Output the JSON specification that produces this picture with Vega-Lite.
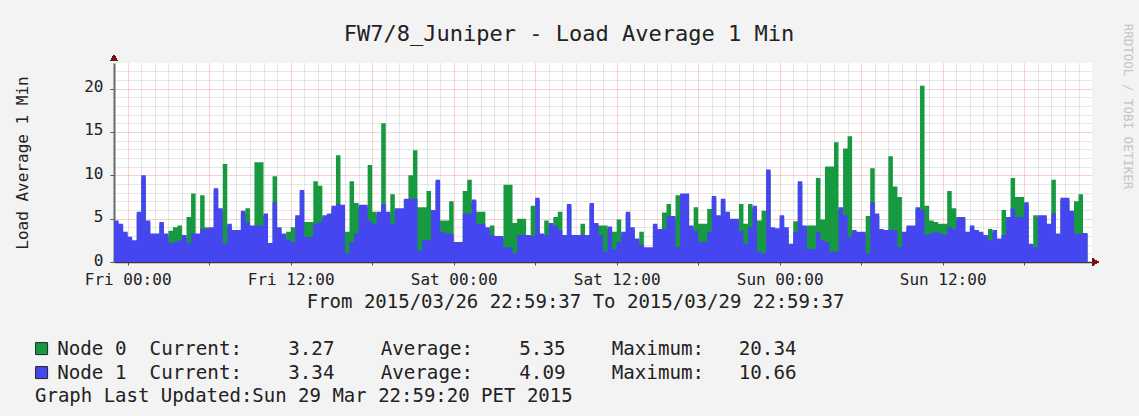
{
"$schema": "https://vega.github.io/schema/vega-lite/v6.json",
"width": 978, "height": 199,
"autosize": "none",
"padding": {"left": 114, "top": 63, "right": 47, "bottom": 154},
"background": "#f3f3f3",
"config": {"view": {"fill": "#ffffff", "stroke": null}, "font": "DejaVu Sans Mono"},
"title": {"text": "Graph Last Updated:Sun 29 Mar 22:59:20 PET 2015", "orient": "bottom", "anchor": "start", "frame": "group", "dx": -79, "offset": 4, "font": "DejaVu Sans Mono", "fontSize": 19, "fontWeight": "normal", "color": "#222222"},
"data": {"values": [
{"t":"2015-03-26T23:00Z","n0":4.5,"n1":4.8},{"t":"2015-03-26T23:20Z","n0":4.1,"n1":4.4},{"t":"2015-03-26T23:40Z","n0":3.2,"n1":3.5},
{"t":"2015-03-27T00:00Z","n0":2.6,"n1":2.9},{"t":"2015-03-27T00:20Z","n0":2.2,"n1":2.5},{"t":"2015-03-27T00:40Z","n0":5.5,"n1":5.8},
{"t":"2015-03-27T01:00Z","n0":9.7,"n1":10.0},{"t":"2015-03-27T01:20Z","n0":4.5,"n1":4.8},{"t":"2015-03-27T01:40Z","n0":3.0,"n1":3.3},
{"t":"2015-03-27T02:00Z","n0":3.0,"n1":3.3},{"t":"2015-03-27T02:20Z","n0":4.3,"n1":4.6},{"t":"2015-03-27T02:40Z","n0":3.0,"n1":3.3},
{"t":"2015-03-27T03:00Z","n0":3.6,"n1":2.2},{"t":"2015-03-27T03:20Z","n0":4.0,"n1":2.3},{"t":"2015-03-27T03:40Z","n0":4.2,"n1":2.5},
{"t":"2015-03-27T04:00Z","n0":2.8,"n1":3.1},{"t":"2015-03-27T04:20Z","n0":5.2,"n1":2.2},{"t":"2015-03-27T04:40Z","n0":7.9,"n1":3.3},
{"t":"2015-03-27T05:00Z","n0":3.0,"n1":3.3},{"t":"2015-03-27T05:20Z","n0":7.7,"n1":3.8},{"t":"2015-03-27T05:40Z","n0":4.0,"n1":3.8},
{"t":"2015-03-27T06:00Z","n0":3.7,"n1":4.0},{"t":"2015-03-27T06:20Z","n0":8.2,"n1":8.5},{"t":"2015-03-27T06:40Z","n0":5.9,"n1":6.2},
{"t":"2015-03-27T07:00Z","n0":11.3,"n1":2.1},{"t":"2015-03-27T07:20Z","n0":4.1,"n1":4.4},{"t":"2015-03-27T07:40Z","n0":3.4,"n1":3.7},
{"t":"2015-03-27T08:00Z","n0":3.4,"n1":3.7},{"t":"2015-03-27T08:20Z","n0":5.6,"n1":5.9},{"t":"2015-03-27T08:40Z","n0":6.2,"n1":4.6},
{"t":"2015-03-27T09:00Z","n0":3.9,"n1":4.2},{"t":"2015-03-27T09:20Z","n0":11.5,"n1":4.2},{"t":"2015-03-27T09:40Z","n0":11.5,"n1":4.2},
{"t":"2015-03-27T10:00Z","n0":5.3,"n1":5.6},{"t":"2015-03-27T10:20Z","n0":1.9,"n1":2.2},{"t":"2015-03-27T10:40Z","n0":9.9,"n1":6.9},
{"t":"2015-03-27T11:00Z","n0":3.7,"n1":4.0},{"t":"2015-03-27T11:20Z","n0":3.0,"n1":3.3},{"t":"2015-03-27T11:40Z","n0":3.5,"n1":2.6},
{"t":"2015-03-27T12:00Z","n0":4.0,"n1":2.3},{"t":"2015-03-27T12:20Z","n0":5.1,"n1":5.4},{"t":"2015-03-27T12:40Z","n0":8.0,"n1":8.3},
{"t":"2015-03-27T13:00Z","n0":4.6,"n1":2.9},{"t":"2015-03-27T13:20Z","n0":4.6,"n1":2.9},{"t":"2015-03-27T13:40Z","n0":9.3,"n1":4.4},
{"t":"2015-03-27T14:00Z","n0":8.8,"n1":4.6},{"t":"2015-03-27T14:20Z","n0":5.1,"n1":5.4},{"t":"2015-03-27T14:40Z","n0":5.3,"n1":5.6},
{"t":"2015-03-27T15:00Z","n0":6.2,"n1":6.5},{"t":"2015-03-27T15:20Z","n0":12.3,"n1":6.7},{"t":"2015-03-27T15:40Z","n0":6.3,"n1":6.6},
{"t":"2015-03-27T16:00Z","n0":3.5,"n1":1.0},{"t":"2015-03-27T16:20Z","n0":9.3,"n1":2.3},{"t":"2015-03-27T16:40Z","n0":6.8,"n1":3.3},
{"t":"2015-03-27T17:00Z","n0":6.3,"n1":6.6},{"t":"2015-03-27T17:20Z","n0":6.3,"n1":6.6},{"t":"2015-03-27T17:40Z","n0":11.2,"n1":4.8},
{"t":"2015-03-27T18:00Z","n0":5.8,"n1":4.4},{"t":"2015-03-27T18:20Z","n0":5.5,"n1":5.8},{"t":"2015-03-27T18:40Z","n0":16.0,"n1":6.7},
{"t":"2015-03-27T19:00Z","n0":5.5,"n1":5.8},{"t":"2015-03-27T19:20Z","n0":7.8,"n1":4.4},{"t":"2015-03-27T19:40Z","n0":5.9,"n1":6.2},
{"t":"2015-03-27T20:00Z","n0":5.9,"n1":6.2},{"t":"2015-03-27T20:20Z","n0":7.0,"n1":7.3},{"t":"2015-03-27T20:40Z","n0":10.0,"n1":7.3},
{"t":"2015-03-27T21:00Z","n0":12.9,"n1":7.3},{"t":"2015-03-27T21:20Z","n0":6.3,"n1":1.3},{"t":"2015-03-27T21:40Z","n0":6.3,"n1":2.5},
{"t":"2015-03-27T22:00Z","n0":8.2,"n1":2.5},{"t":"2015-03-27T22:20Z","n0":5.7,"n1":6.0},{"t":"2015-03-27T22:40Z","n0":9.2,"n1":9.5},
{"t":"2015-03-27T23:00Z","n0":4.8,"n1":3.5},{"t":"2015-03-27T23:20Z","n0":4.8,"n1":3.3},{"t":"2015-03-27T23:40Z","n0":7.0,"n1":3.3},
{"t":"2015-03-28T00:00Z","n0":2.0,"n1":2.3},{"t":"2015-03-28T00:20Z","n0":2.0,"n1":2.3},{"t":"2015-03-28T00:40Z","n0":8.2,"n1":5.6},
{"t":"2015-03-28T01:00Z","n0":9.5,"n1":5.6},{"t":"2015-03-28T01:20Z","n0":6.9,"n1":7.2},{"t":"2015-03-28T01:40Z","n0":5.8,"n1":4.4},
{"t":"2015-03-28T02:00Z","n0":5.8,"n1":4.4},{"t":"2015-03-28T02:20Z","n0":3.7,"n1":4.0},{"t":"2015-03-28T02:40Z","n0":4.2,"n1":3.1},
{"t":"2015-03-28T03:00Z","n0":2.7,"n1":3.0},{"t":"2015-03-28T03:20Z","n0":2.7,"n1":3.0},{"t":"2015-03-28T03:40Z","n0":8.9,"n1":1.7},
{"t":"2015-03-28T04:00Z","n0":8.9,"n1":1.7},{"t":"2015-03-28T04:20Z","n0":4.5,"n1":1.0},{"t":"2015-03-28T04:40Z","n0":5.0,"n1":3.1},
{"t":"2015-03-28T05:00Z","n0":5.0,"n1":3.1},{"t":"2015-03-28T05:20Z","n0":2.8,"n1":3.1},{"t":"2015-03-28T05:40Z","n0":6.5,"n1":3.0},
{"t":"2015-03-28T06:00Z","n0":7.1,"n1":7.4},{"t":"2015-03-28T06:20Z","n0":3.0,"n1":3.3},{"t":"2015-03-28T06:40Z","n0":4.8,"n1":3.1},
{"t":"2015-03-28T07:00Z","n0":4.2,"n1":4.5},{"t":"2015-03-28T07:20Z","n0":5.2,"n1":4.2},{"t":"2015-03-28T07:40Z","n0":5.8,"n1":3.7},
{"t":"2015-03-28T08:00Z","n0":2.8,"n1":3.1},{"t":"2015-03-28T08:20Z","n0":6.4,"n1":6.7},{"t":"2015-03-28T08:40Z","n0":2.8,"n1":3.1},
{"t":"2015-03-28T09:00Z","n0":2.8,"n1":3.1},{"t":"2015-03-28T09:20Z","n0":4.4,"n1":3.1},{"t":"2015-03-28T09:40Z","n0":2.8,"n1":3.1},
{"t":"2015-03-28T10:00Z","n0":6.5,"n1":6.8},{"t":"2015-03-28T10:20Z","n0":4.2,"n1":4.5},{"t":"2015-03-28T10:40Z","n0":4.2,"n1":3.1},
{"t":"2015-03-28T11:00Z","n0":4.2,"n1":1.2},{"t":"2015-03-28T11:20Z","n0":3.8,"n1":4.1},{"t":"2015-03-28T11:40Z","n0":3.5,"n1":1.5},
{"t":"2015-03-28T12:00Z","n0":4.9,"n1":2.3},{"t":"2015-03-28T12:20Z","n0":3.2,"n1":3.5},{"t":"2015-03-28T12:40Z","n0":5.5,"n1":5.8},
{"t":"2015-03-28T13:00Z","n0":3.7,"n1":4.0},{"t":"2015-03-28T13:20Z","n0":2.4,"n1":2.7},{"t":"2015-03-28T13:40Z","n0":3.5,"n1":2.0},
{"t":"2015-03-28T14:00Z","n0":1.4,"n1":1.7},{"t":"2015-03-28T14:20Z","n0":1.4,"n1":1.7},{"t":"2015-03-28T14:40Z","n0":4.1,"n1":4.4},
{"t":"2015-03-28T15:00Z","n0":3.5,"n1":3.8},{"t":"2015-03-28T15:20Z","n0":5.7,"n1":3.8},{"t":"2015-03-28T15:40Z","n0":6.7,"n1":5.3},
{"t":"2015-03-28T16:00Z","n0":5.0,"n1":5.3},{"t":"2015-03-28T16:20Z","n0":7.7,"n1":1.7},{"t":"2015-03-28T16:40Z","n0":7.6,"n1":7.9},
{"t":"2015-03-28T17:00Z","n0":7.6,"n1":7.9},{"t":"2015-03-28T17:20Z","n0":3.9,"n1":4.2},{"t":"2015-03-28T17:40Z","n0":6.3,"n1":3.6},
{"t":"2015-03-28T18:00Z","n0":4.4,"n1":2.3},{"t":"2015-03-28T18:20Z","n0":4.4,"n1":2.3},{"t":"2015-03-28T18:40Z","n0":6.1,"n1":3.5},
{"t":"2015-03-28T19:00Z","n0":7.3,"n1":7.6},{"t":"2015-03-28T19:20Z","n0":5.1,"n1":5.4},{"t":"2015-03-28T19:40Z","n0":7.0,"n1":7.3},
{"t":"2015-03-28T20:00Z","n0":5.5,"n1":5.8},{"t":"2015-03-28T20:20Z","n0":4.7,"n1":5.0},{"t":"2015-03-28T20:40Z","n0":4.7,"n1":5.0},
{"t":"2015-03-28T21:00Z","n0":6.7,"n1":3.6},{"t":"2015-03-28T21:20Z","n0":4.4,"n1":2.1},{"t":"2015-03-28T21:40Z","n0":6.7,"n1":4.0},
{"t":"2015-03-28T22:00Z","n0":6.2,"n1":6.5},{"t":"2015-03-28T22:20Z","n0":4.8,"n1":1.2},{"t":"2015-03-28T22:40Z","n0":5.9,"n1":1.0},
{"t":"2015-03-28T23:00Z","n0":10.3,"n1":10.66},{"t":"2015-03-28T23:20Z","n0":3.7,"n1":4.0},{"t":"2015-03-28T23:40Z","n0":3.6,"n1":3.9},
{"t":"2015-03-29T00:00Z","n0":5.1,"n1":5.4},{"t":"2015-03-29T00:20Z","n0":3.7,"n1":4.0},{"t":"2015-03-29T00:40Z","n0":1.8,"n1":2.1},
{"t":"2015-03-29T01:00Z","n0":4.7,"n1":3.5},{"t":"2015-03-29T01:20Z","n0":9.0,"n1":9.3},{"t":"2015-03-29T01:40Z","n0":3.9,"n1":4.2},
{"t":"2015-03-29T02:00Z","n0":4.2,"n1":1.5},{"t":"2015-03-29T02:20Z","n0":4.2,"n1":1.5},{"t":"2015-03-29T02:40Z","n0":9.7,"n1":3.5},
{"t":"2015-03-29T03:00Z","n0":4.9,"n1":2.5},{"t":"2015-03-29T03:20Z","n0":11.0,"n1":2.3},{"t":"2015-03-29T03:40Z","n0":11.0,"n1":1.2},
{"t":"2015-03-29T04:00Z","n0":13.8,"n1":1.2},{"t":"2015-03-29T04:20Z","n0":6.0,"n1":6.3},{"t":"2015-03-29T04:40Z","n0":13.1,"n1":5.4},
{"t":"2015-03-29T05:00Z","n0":14.5,"n1":2.9},{"t":"2015-03-29T05:20Z","n0":3.4,"n1":3.7},{"t":"2015-03-29T05:40Z","n0":3.2,"n1":3.5},
{"t":"2015-03-29T06:00Z","n0":3.2,"n1":3.5},{"t":"2015-03-29T06:20Z","n0":5.3,"n1":1.0},{"t":"2015-03-29T06:40Z","n0":10.8,"n1":6.9},
{"t":"2015-03-29T07:00Z","n0":5.3,"n1":5.6},{"t":"2015-03-29T07:20Z","n0":3.5,"n1":3.8},{"t":"2015-03-29T07:40Z","n0":3.4,"n1":3.7},
{"t":"2015-03-29T08:00Z","n0":12.2,"n1":3.7},{"t":"2015-03-29T08:20Z","n0":8.7,"n1":3.7},{"t":"2015-03-29T08:40Z","n0":7.5,"n1":1.7},
{"t":"2015-03-29T09:00Z","n0":3.2,"n1":3.5},{"t":"2015-03-29T09:20Z","n0":3.9,"n1":4.2},{"t":"2015-03-29T09:40Z","n0":3.9,"n1":4.2},
{"t":"2015-03-29T10:00Z","n0":6.0,"n1":6.3},{"t":"2015-03-29T10:20Z","n0":20.34,"n1":6.0},{"t":"2015-03-29T10:40Z","n0":6.5,"n1":3.1},
{"t":"2015-03-29T11:00Z","n0":4.8,"n1":3.3},{"t":"2015-03-29T11:20Z","n0":4.6,"n1":3.5},{"t":"2015-03-29T11:40Z","n0":4.4,"n1":3.3},
{"t":"2015-03-29T12:00Z","n0":4.4,"n1":3.1},{"t":"2015-03-29T12:20Z","n0":8.2,"n1":4.0},{"t":"2015-03-29T12:40Z","n0":6.2,"n1":3.8},
{"t":"2015-03-29T13:00Z","n0":4.9,"n1":5.2},{"t":"2015-03-29T13:20Z","n0":4.9,"n1":5.2},{"t":"2015-03-29T13:40Z","n0":3.2,"n1":3.5},
{"t":"2015-03-29T14:00Z","n0":3.9,"n1":4.2},{"t":"2015-03-29T14:20Z","n0":3.4,"n1":3.7},{"t":"2015-03-29T14:40Z","n0":3.2,"n1":3.5},
{"t":"2015-03-29T15:00Z","n0":2.8,"n1":3.1},{"t":"2015-03-29T15:20Z","n0":3.8,"n1":2.5},{"t":"2015-03-29T15:40Z","n0":3.4,"n1":3.7},
{"t":"2015-03-29T16:00Z","n0":2.4,"n1":2.7},{"t":"2015-03-29T16:20Z","n0":6.0,"n1":3.1},{"t":"2015-03-29T16:40Z","n0":4.9,"n1":5.2},
{"t":"2015-03-29T17:00Z","n0":9.7,"n1":6.2},{"t":"2015-03-29T17:20Z","n0":7.5,"n1":5.2},{"t":"2015-03-29T17:40Z","n0":7.5,"n1":5.2},
{"t":"2015-03-29T18:00Z","n0":6.6,"n1":6.9},{"t":"2015-03-29T18:20Z","n0":1.8,"n1":2.1},{"t":"2015-03-29T18:40Z","n0":5.4,"n1":1.7},
{"t":"2015-03-29T19:00Z","n0":5.1,"n1":5.4},{"t":"2015-03-29T19:20Z","n0":5.1,"n1":5.4},{"t":"2015-03-29T19:40Z","n0":4.1,"n1":4.4},
{"t":"2015-03-29T20:00Z","n0":9.5,"n1":5.6},{"t":"2015-03-29T20:20Z","n0":3.0,"n1":3.3},{"t":"2015-03-29T20:40Z","n0":7.1,"n1":7.4},
{"t":"2015-03-29T21:00Z","n0":7.1,"n1":7.4},{"t":"2015-03-29T21:20Z","n0":5.6,"n1":5.9},{"t":"2015-03-29T21:40Z","n0":7.0,"n1":3.3},
{"t":"2015-03-29T22:00Z","n0":7.8,"n1":3.3},{"t":"2015-03-29T22:20Z","n0":3.27,"n1":3.34},{"t":"2015-03-29T22:40Z","n0":3.27,"n1":3.34}
]},
"layer": [
{
 "mark": {"type": "area", "interpolate": "step-after", "opacity": 1},
 "encoding": {
  "x": {"field": "t", "type": "temporal",
   "scale": {"type": "utc", "nice": false, "domain": [{"year":2015,"month":"mar","date":26,"hours":22,"minutes":59,"seconds":37,"utc":true},{"year":2015,"month":"mar","date":29,"hours":22,"minutes":59,"seconds":37,"utc":true}]},
   "axis": {"orient": "bottom",
    "values": [1427414400000,1427436000000,1427457600000,1427479200000,1427500800000,1427522400000,1427544000000,1427565600000,1427587200000,1427608800000,1427630400000,1427652000000],
    "format": "%a %H:%M",
    "labelExpr": "indexof(datum.label, '06:00') >= 0 || indexof(datum.label, '18:00') >= 0 ? '' : datum.label",
    "labelFont": "DejaVu Sans Mono", "labelFontSize": 16, "labelColor": "#222222", "labelPadding": 6, "labelOverlap": false, "labelFlush": false,
    "ticks": true, "tickSize": 3, "tickColor": "#555555",
    "domain": true, "domainColor": "#3a3a3a", "domainWidth": 1.5,
    "grid": true, "gridColor": "#f0a0a0", "gridDash": [1, 1], "gridWidth": 1,
    "title": "From 2015/03/26 22:59:37 To 2015/03/29 22:59:37", "titleFont": "DejaVu Sans Mono", "titleFontSize": 19, "titleFontWeight": "normal", "titleColor": "#222222",
    "titleX": 461, "titleY": 39, "titleAlign": "center", "titleBaseline": "middle", "titleAngle": 0}},
  "y": {"field": "n0", "type": "quantitative", "scale": {"domain": [0, 22.95], "nice": false, "zero": true},
   "axis": {"orient": "left", "values": [0, 5, 10, 15, 20],
    "labelFont": "DejaVu Sans Mono", "labelFontSize": 16, "labelColor": "#222222", "labelPadding": 7, "labelOverlap": false, "labelOffset": -2,
    "ticks": true, "tickSize": 4, "tickColor": "#555555",
    "domain": true, "domainColor": "#6a6a6a", "domainWidth": 2,
    "grid": true, "gridColor": "#f0a0a0", "gridDash": [1, 1], "gridWidth": 1,
    "title": "Load Average 1 Min", "titleFont": "DejaVu Sans Mono", "titleFontSize": 16, "titleFontWeight": "normal", "titleColor": "#222222",
    "titleX": -92, "titleY": 99.5, "titleAngle": 270, "titleAlign": "center", "titleBaseline": "middle"}},
  "color": {"datum": "Node\u00a00\u00a0\u00a0Current:\u00a0\u00a0\u00a0\u00a03.27\u00a0\u00a0\u00a0\u00a0Average:\u00a0\u00a0\u00a0\u00a05.35\u00a0\u00a0\u00a0\u00a0Maximum:\u00a0\u00a0\u00a020.34", "type": "nominal",
   "scale": {"domain": ["Node\u00a00\u00a0\u00a0Current:\u00a0\u00a0\u00a0\u00a03.27\u00a0\u00a0\u00a0\u00a0Average:\u00a0\u00a0\u00a0\u00a05.35\u00a0\u00a0\u00a0\u00a0Maximum:\u00a0\u00a0\u00a020.34", "Node\u00a01\u00a0\u00a0Current:\u00a0\u00a0\u00a0\u00a03.34\u00a0\u00a0\u00a0\u00a0Average:\u00a0\u00a0\u00a0\u00a04.09\u00a0\u00a0\u00a0\u00a0Maximum:\u00a0\u00a0\u00a010.66"], "range": ["#179a3f", "#4646f0"]},
   "legend": {"orient": "none", "legendX": -82, "legendY": 276, "title": null, "padding": 0, "symbolType": "square", "symbolSize": 144, "symbolStrokeColor": "#222222", "symbolStrokeWidth": 1, "symbolOpacity": 1,
    "labelFont": "DejaVu Sans Mono", "labelFontSize": 19.2, "labelColor": "#222222", "labelLimit": 2000, "labelOffset": 6, "rowPadding": 4}}
 }
},
{
 "mark": {"type": "area", "interpolate": "step-after", "opacity": 1},
 "encoding": {
  "x": {"field": "t", "type": "temporal",
   "scale": {"type": "utc", "nice": false, "domain": [{"year":2015,"month":"mar","date":26,"hours":22,"minutes":59,"seconds":37,"utc":true},{"year":2015,"month":"mar","date":29,"hours":22,"minutes":59,"seconds":37,"utc":true}]},
   "axis": {"orient": "top", "labels": false, "ticks": false, "domain": false, "grid": false,
    "title": "FW7/8_Juniper - Load Average 1 Min", "titleFont": "DejaVu Sans Mono", "titleFontSize": 22, "titleFontWeight": "normal", "titleColor": "#222222",
    "titleX": 454.5, "titleY": -30, "titleAlign": "center", "titleBaseline": "middle", "titleAngle": 0}},
  "y": {"field": "n1", "type": "quantitative", "scale": {"domain": [0, 22.95], "nice": false, "zero": true},
   "axis": {"orient": "right", "labels": false, "ticks": false, "domain": false, "grid": false,
    "title": "RRDTOOL / TOBI OETIKER", "titleFont": "DejaVu Sans Mono", "titleFontSize": 12.5, "titleFontWeight": "normal", "titleColor": "#c4c4c4",
    "titleX": 35, "titleY": 43, "titleAngle": 90, "titleAlign": "center", "titleBaseline": "middle"}},
  "color": {"datum": "Node\u00a01\u00a0\u00a0Current:\u00a0\u00a0\u00a0\u00a03.34\u00a0\u00a0\u00a0\u00a0Average:\u00a0\u00a0\u00a0\u00a04.09\u00a0\u00a0\u00a0\u00a0Maximum:\u00a0\u00a0\u00a010.66", "type": "nominal"}
 }
},
{
 "mark": {"type": "point", "opacity": 0},
 "encoding": {
  "x": {"field": "t", "type": "temporal",
   "scale": {"type": "utc", "nice": false, "domain": [{"year":2015,"month":"mar","date":26,"hours":22,"minutes":59,"seconds":37,"utc":true},{"year":2015,"month":"mar","date":29,"hours":22,"minutes":59,"seconds":37,"utc":true}]},
   "axis": {"orient": "bottom", "labels": false, "ticks": false, "domain": false, "title": null,
    "values": [1427418000000,1427421600000,1427425200000,1427428800000,1427432400000,1427439600000,1427443200000,1427446800000,1427450400000,1427454000000,1427461200000,1427464800000,1427468400000,1427472000000,1427475600000,1427482800000,1427486400000,1427490000000,1427493600000,1427497200000,1427504400000,1427508000000,1427511600000,1427515200000,1427518800000,1427526000000,1427529600000,1427533200000,1427536800000,1427540400000,1427547600000,1427551200000,1427554800000,1427558400000,1427562000000,1427569200000,1427572800000,1427576400000,1427580000000,1427583600000,1427590800000,1427594400000,1427598000000,1427601600000,1427605200000,1427612400000,1427616000000,1427619600000,1427623200000,1427626800000,1427634000000,1427637600000,1427641200000,1427644800000,1427648400000,1427655600000,1427659200000,1427662800000,1427666400000],
    "grid": true, "gridColor": "#cdcdcd", "gridDash": [1, 1], "gridWidth": 1}},
  "y": {"field": "n1", "type": "quantitative", "scale": {"domain": [0, 22.95], "nice": false, "zero": true},
   "axis": {"orient": "left", "labels": false, "ticks": false, "domain": false, "title": null,
    "values": [1,2,3,4,6,7,8,9,11,12,13,14,16,17,18,19,21,22],
    "grid": true, "gridColor": "#cdcdcd", "gridDash": [1, 1], "gridWidth": 1}}
 }
},
{
 "mark": {"type": "point", "shape": "triangle-up", "filled": true, "size": 45, "color": "#7a1515", "opacity": 1},
 "encoding": {
  "x": {"datum": {"year":2015,"month":"mar","date":26,"hours":22,"minutes":59,"seconds":37,"utc":true}, "type": "temporal",
   "scale": {"type": "utc", "nice": false, "domain": [{"year":2015,"month":"mar","date":26,"hours":22,"minutes":59,"seconds":37,"utc":true},{"year":2015,"month":"mar","date":29,"hours":22,"minutes":59,"seconds":37,"utc":true}]}, "axis": null},
  "y": {"datum": 23.55, "type": "quantitative", "scale": {"domain": [0, 22.95], "nice": false, "zero": true}, "axis": null}
 }
},
{
 "mark": {"type": "point", "shape": "triangle-right", "filled": true, "size": 45, "color": "#7a1515", "opacity": 1},
 "encoding": {
  "x": {"datum": {"year":2015,"month":"mar","date":29,"hours":23,"minutes":16,"utc":true}, "type": "temporal",
   "scale": {"type": "utc", "nice": false, "domain": [{"year":2015,"month":"mar","date":26,"hours":22,"minutes":59,"seconds":37,"utc":true},{"year":2015,"month":"mar","date":29,"hours":22,"minutes":59,"seconds":37,"utc":true}]}, "axis": null},
  "y": {"datum": 0, "type": "quantitative", "scale": {"domain": [0, 22.95], "nice": false, "zero": true}, "axis": null}
 }
}
],
"resolve": {"axis": {"x": "independent", "y": "independent"}}
}
